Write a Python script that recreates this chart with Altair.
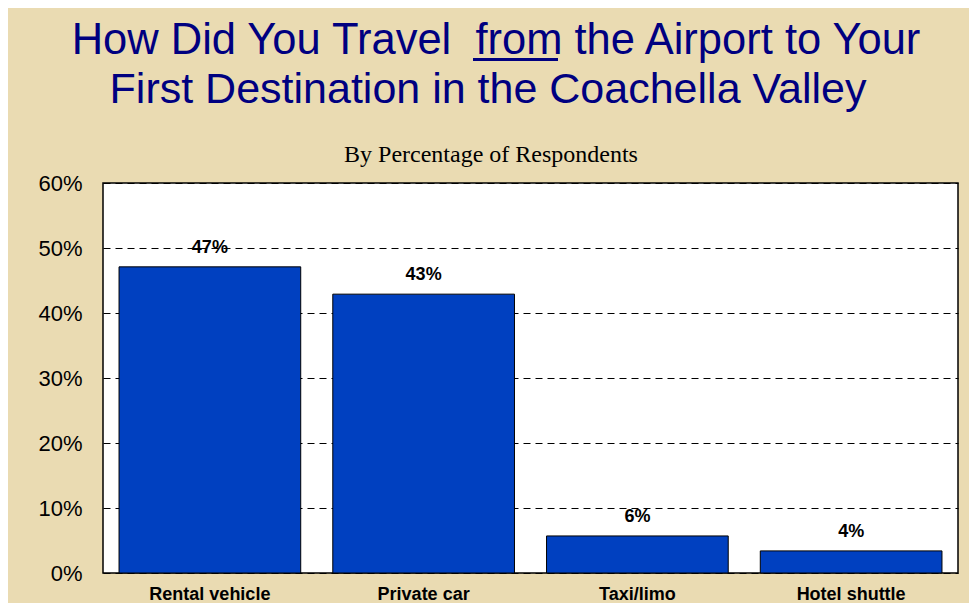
import altair as alt
import pandas as pd

categories = ["Rental vehicle", "Private car", "Taxi/limo", "Hotel shuttle"]
values = [0.471, 0.429, 0.057, 0.034]
labels = ["47%", "43%", "6%", "4%"]
y_ticks = [0.0, 0.1, 0.2, 0.3, 0.4, 0.5, 0.6]

title_line1 = "How Did You Travel\u00a0 from the Airport to Your"
title_line2 = "First Destination in the Coachella Valley"
subtitle = "By Percentage of Respondents"

df = pd.DataFrame({"mode": categories, "share": values, "label": labels})

FONT = "Liberation Sans"
NAVY = "#000080"

x = alt.X("mode:N", sort=categories, title=None,
          scale=alt.Scale(paddingInner=0.15, paddingOuter=0.075),
          axis=alt.Axis(labelAngle=0, labelFont=FONT, labelFontWeight="bold",
                        labelFontSize=18, labelColor="black", ticks=False,
                        domain=False, labelPadding=12, grid=False))
y = alt.Y("share:Q", title=None,
          scale=alt.Scale(domain=[0, 0.6], nice=False),
          axis=alt.Axis(format=".0%", values=y_ticks, labelFont=FONT,
                        labelFontSize=22, labelColor="black", ticks=False,
                        domain=False, labelPadding=21, grid=True,
                        gridColor="black", gridDash=[7, 5], gridWidth=1,
                        gridOpacity=1))

base = alt.Chart(df)
bars = base.mark_bar(color="#0040C0", stroke="black", strokeWidth=1).encode(x=x, y=y)
text = base.mark_text(dy=-10, baseline="bottom", font=FONT, fontWeight="bold",
                      fontSize=18, color="black").encode(x=x, y=y, text="label:N")

one = pd.DataFrame({"u": [0]})
t1 = alt.Chart(one).mark_text(font=FONT, fontSize=43.5, color=NAVY, align="center",
                              baseline="alphabetic", text=title_line1).encode(
    x=alt.value(393), y=alt.value(-129))
t2 = alt.Chart(one).mark_text(font=FONT, fontSize=43, color=NAVY, align="center",
                              baseline="alphabetic", text=title_line2).encode(
    x=alt.value(385), y=alt.value(-80))
st = alt.Chart(one).mark_text(font="Liberation Serif", fontSize=24, color="black",
                              align="center", baseline="alphabetic", text=subtitle).encode(
    x=alt.value(388), y=alt.value(-21))
underline = alt.Chart(one).mark_rule(color=NAVY, strokeWidth=3).encode(
    x=alt.value(370), x2=alt.value(455), y=alt.value(-123.5))

chart = alt.layer(bars, text, t1, t2, st, underline).properties(
    width=855, height=390,
    autosize=alt.AutoSizeParams(type="none"),
    padding={"left": 95, "top": 175, "right": 11, "bottom": 30},
    background="#EADBB2",
).configure_view(fill="white", stroke="black", strokeWidth=1.5)

chart.save("out.html", embed_options={"renderer": "svg", "actions": False})
